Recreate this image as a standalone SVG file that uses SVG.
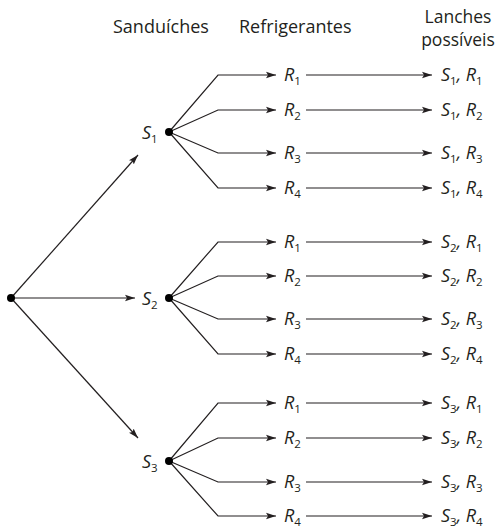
<svg xmlns="http://www.w3.org/2000/svg" width="499" height="529" viewBox="0 0 499 529">
<style>
.hdr{font-family:"Open Sans","Noto Sans",sans-serif;font-size:18px;fill:#231f20}
.hdr2{font-size:17.5px}
.lbl{font-family:"Open Sans","Noto Sans",sans-serif;font-size:18px;font-style:italic;fill:#231f20}
.sub{font-size:11.5px;font-style:normal}
.ar{fill:none;stroke:#231f20;stroke-width:1.2;marker-end:url(#ah)}
.dot{fill:#000}
</style>
<defs>
<marker id="ah" markerUnits="userSpaceOnUse" viewBox="0 0 10 8" refX="10" refY="4" markerWidth="10" markerHeight="8" orient="auto">
<path d="M0,0.8 L10,4 L0,7.2 L2,4 z" fill="#231f20"/>
</marker>
</defs>
<g id="headers">
<text class="hdr" x="113" y="33">Sanduíches</text>
<text class="hdr" x="239" y="33">Refrigerantes</text>
<text class="hdr hdr2" x="458" y="23" text-anchor="middle">Lanches</text>
<text class="hdr hdr2" x="458" y="46" text-anchor="middle">possíveis</text>
</g>
<g id="connectors">
<line class="ar" x1="11" y1="298" x2="138" y2="155"/>
<line class="ar" x1="11" y1="298" x2="135" y2="298"/>
<line class="ar" x1="11" y1="298" x2="138" y2="438"/>
<polyline class="ar" points="169,132 218,75 276,75"/>
<polyline class="ar" points="169,132 218,110 276,110"/>
<polyline class="ar" points="169,132 218,153 276,153"/>
<polyline class="ar" points="169,132 218,188 276,188"/>
<polyline class="ar" points="169,298 218,242 276,242"/>
<polyline class="ar" points="169,298 218,276 276,276"/>
<polyline class="ar" points="169,298 218,319 276,319"/>
<polyline class="ar" points="169,298 218,354 276,354"/>
<polyline class="ar" points="169,461 218,403 276,403"/>
<polyline class="ar" points="169,461 218,438 276,438"/>
<polyline class="ar" points="169,461 218,482 276,482"/>
<polyline class="ar" points="169,461 218,516 276,516"/>
<line class="ar" x1="306" y1="75" x2="432" y2="75"/>
<line class="ar" x1="306" y1="110" x2="432" y2="110"/>
<line class="ar" x1="306" y1="153" x2="432" y2="153"/>
<line class="ar" x1="306" y1="188" x2="432" y2="188"/>
<line class="ar" x1="306" y1="242" x2="432" y2="242"/>
<line class="ar" x1="306" y1="276" x2="432" y2="276"/>
<line class="ar" x1="306" y1="319" x2="432" y2="319"/>
<line class="ar" x1="306" y1="354" x2="432" y2="354"/>
<line class="ar" x1="306" y1="403" x2="432" y2="403"/>
<line class="ar" x1="306" y1="438" x2="432" y2="438"/>
<line class="ar" x1="306" y1="482" x2="432" y2="482"/>
<line class="ar" x1="306" y1="516" x2="432" y2="516"/>
</g>
<g id="root"><circle class="dot" cx="11" cy="298" r="4"/></g>
<g id="S1">
<circle class="dot" cx="169" cy="132" r="4"/>
<text class="lbl" x="142" y="139">S<tspan class="sub" dy="4">1</tspan></text>
</g>
<g id="S2">
<circle class="dot" cx="169" cy="298" r="4"/>
<text class="lbl" x="142" y="305">S<tspan class="sub" dy="4">2</tspan></text>
</g>
<g id="S3">
<circle class="dot" cx="169" cy="461" r="4"/>
<text class="lbl" x="142" y="468">S<tspan class="sub" dy="4">3</tspan></text>
</g>
<g id="R-S1">
<text class="lbl" x="284" y="81">R<tspan class="sub" dy="4">1</tspan></text>
<text class="lbl" x="284" y="116">R<tspan class="sub" dy="4">2</tspan></text>
<text class="lbl" x="284" y="159">R<tspan class="sub" dy="4">3</tspan></text>
<text class="lbl" x="284" y="194">R<tspan class="sub" dy="4">4</tspan></text>
</g>
<g id="R-S2">
<text class="lbl" x="284" y="248">R<tspan class="sub" dy="4">1</tspan></text>
<text class="lbl" x="284" y="282">R<tspan class="sub" dy="4">2</tspan></text>
<text class="lbl" x="284" y="325">R<tspan class="sub" dy="4">3</tspan></text>
<text class="lbl" x="284" y="360">R<tspan class="sub" dy="4">4</tspan></text>
</g>
<g id="R-S3">
<text class="lbl" x="284" y="409">R<tspan class="sub" dy="4">1</tspan></text>
<text class="lbl" x="284" y="444">R<tspan class="sub" dy="4">2</tspan></text>
<text class="lbl" x="284" y="488">R<tspan class="sub" dy="4">3</tspan></text>
<text class="lbl" x="284" y="522">R<tspan class="sub" dy="4">4</tspan></text>
</g>
<g id="L-S1">
<text class="lbl" x="441" y="81">S<tspan class="sub" dy="4">1</tspan><tspan dy="-4">, R</tspan><tspan class="sub" dy="4">1</tspan></text>
<text class="lbl" x="441" y="116">S<tspan class="sub" dy="4">1</tspan><tspan dy="-4">, R</tspan><tspan class="sub" dy="4">2</tspan></text>
<text class="lbl" x="441" y="159">S<tspan class="sub" dy="4">1</tspan><tspan dy="-4">, R</tspan><tspan class="sub" dy="4">3</tspan></text>
<text class="lbl" x="441" y="194">S<tspan class="sub" dy="4">1</tspan><tspan dy="-4">, R</tspan><tspan class="sub" dy="4">4</tspan></text>
</g>
<g id="L-S2">
<text class="lbl" x="441" y="248">S<tspan class="sub" dy="4">2</tspan><tspan dy="-4">, R</tspan><tspan class="sub" dy="4">1</tspan></text>
<text class="lbl" x="441" y="282">S<tspan class="sub" dy="4">2</tspan><tspan dy="-4">, R</tspan><tspan class="sub" dy="4">2</tspan></text>
<text class="lbl" x="441" y="325">S<tspan class="sub" dy="4">2</tspan><tspan dy="-4">, R</tspan><tspan class="sub" dy="4">3</tspan></text>
<text class="lbl" x="441" y="360">S<tspan class="sub" dy="4">2</tspan><tspan dy="-4">, R</tspan><tspan class="sub" dy="4">4</tspan></text>
</g>
<g id="L-S3">
<text class="lbl" x="441" y="409">S<tspan class="sub" dy="4">3</tspan><tspan dy="-4">, R</tspan><tspan class="sub" dy="4">1</tspan></text>
<text class="lbl" x="441" y="444">S<tspan class="sub" dy="4">3</tspan><tspan dy="-4">, R</tspan><tspan class="sub" dy="4">2</tspan></text>
<text class="lbl" x="441" y="488">S<tspan class="sub" dy="4">3</tspan><tspan dy="-4">, R</tspan><tspan class="sub" dy="4">3</tspan></text>
<text class="lbl" x="441" y="522">S<tspan class="sub" dy="4">3</tspan><tspan dy="-4">, R</tspan><tspan class="sub" dy="4">4</tspan></text>
</g>
</svg>
